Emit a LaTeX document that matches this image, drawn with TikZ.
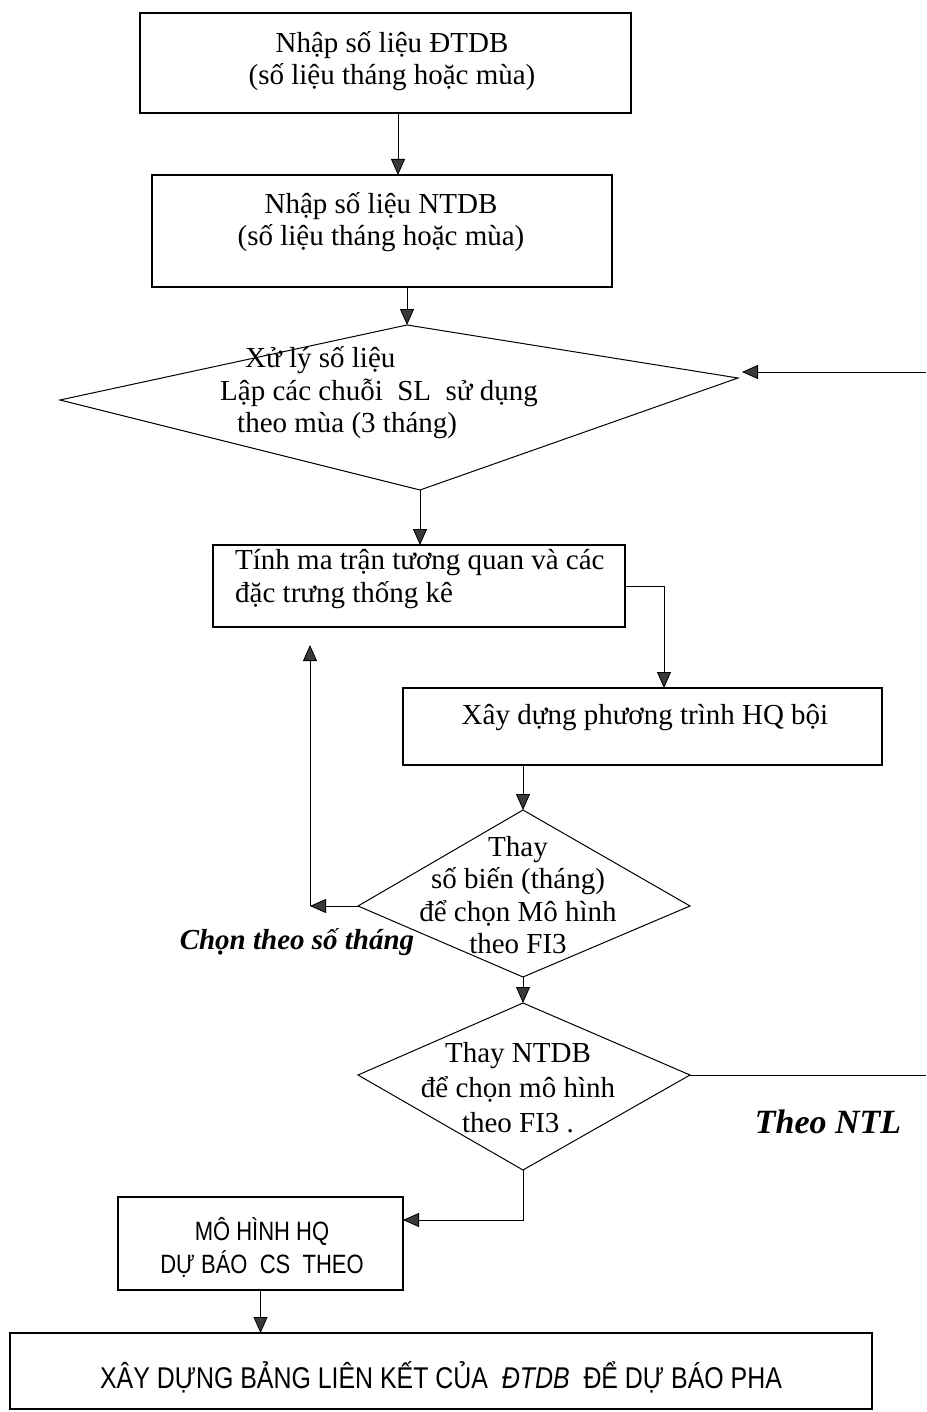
\documentclass[tikz,border=0pt]{standalone}
\usepackage{fontspec}
\setmainfont{Liberation Serif}
\newfontfamily\narrowsans[FakeStretch=0.83]{Liberation Sans}
\usetikzlibrary{arrows.meta}
\begin{document}
\begin{tikzpicture}[x=1pt,y=-1pt,
  boxnode/.style={draw, line width=1.1pt, inner sep=0pt, outer sep=0pt},
  shapeline/.style={draw, line width=1pt},
  txt/.style={inner sep=0pt, align=center, font=\fontsize{29}{32.5}\selectfont},
  sanstxt/.style={inner sep=0pt, align=center, font=\narrowsans\fontsize{26.5}{33}\selectfont},
  bigsans/.style={inner sep=0pt, font=\narrowsans\fontsize{30}{34}\selectfont},
  lbl/.style={inner sep=0pt, font=\fontsize{29}{32}\selectfont\bfseries\itshape},
  lblbig/.style={inner sep=0pt, font=\fontsize{34}{38}\selectfont\bfseries\itshape},
  conn/.style={line width=0.8pt},
  arr/.style={conn, -{Triangle[length=16pt,width=14pt,fill=gray!45!black]}}]
\useasboundingbox (0,0) rectangle (926,1412);
% boxes
\node[boxnode, minimum width=491pt, minimum height=100pt] (b1) at (385.5,63) {};
\node[txt] (t1) at (392,61) {Nhập số liệu ĐTDB\\(số liệu tháng hoặc mùa)};
\node[boxnode, minimum width=460pt, minimum height=112pt] (b2) at (382,231) {};
\node[txt] (t2) at (381,222) {Nhập số liệu NTDB\\(số liệu tháng hoặc mùa)};
% diamond 1
\coordinate (d1t) at (407,325);
\coordinate (d1r) at (738,378);
\coordinate (d1b) at (420,490);
\coordinate (d1l) at (60,400);
\draw[shapeline] (d1t) -- (d1r) -- (d1b) -- (d1l) -- cycle;
\node[txt, align=left, anchor=west] (t3) at (220,393) {\hspace*{25pt}Xử lý số liệu\\Lập các chuỗi\ \ SL\ \ sử dụng\\\hspace*{17pt}theo mùa (3 tháng)};
% box 3
\node[boxnode, minimum width=412pt, minimum height=82pt] (b3) at (419,586) {};
\node[txt, align=left, anchor=west] (t4) at (235,579) {Tính ma trận tương quan và các\\đặc trưng thống kê};
% box 4
\node[boxnode, minimum width=479pt, minimum height=77pt] (b4) at (642.5,726.5) {};
\node[txt] (t5) at (645,718) {Xây dựng phương trình HQ bội};
% diamond 2
\coordinate (d2t) at (523,810);
\coordinate (d2r) at (690,906);
\coordinate (d2b) at (523,977);
\coordinate (d2l) at (358,906);
\draw[shapeline] (d2t) -- (d2r) -- (d2b) -- (d2l) -- cycle;
\node[txt] (t6) at (518,895) {Thay\\số biến (tháng)\\để chọn Mô hình\\theo FI3};
% diamond 3
\coordinate (d3t) at (523,1003);
\coordinate (d3r) at (690,1075);
\coordinate (d3b) at (523,1170);
\coordinate (d3l) at (358,1075);
\draw[shapeline] (d3t) -- (d3r) -- (d3b) -- (d3l) -- cycle;
\node[txt, font=\fontsize{29}{35}\selectfont] (t7) at (518,1088) {Thay NTDB\\để chọn mô hình\\theo FI3 .};
% labels
\node[lbl] (l1) at (297,942) {Chọn theo số tháng};
\node[lblbig] (l2) at (828,1122) {Theo NTL};
% box 5
\node[boxnode, minimum width=285pt, minimum height=93pt] (b5) at (260.5,1243.5) {};
\node[sanstxt] (t8) at (262,1247) {MÔ HÌNH HQ\\DỰ BÁO\ \ CS\ \ THEO};
% box 6
\node[boxnode, minimum width=862pt, minimum height=76pt] (b6) at (441,1371) {};
\node[bigsans] (t9) at (441,1377) {XÂY DỰNG BẢNG LIÊN KẾT CỦA\ \ \textit{ĐTDB}\ \ ĐỂ DỰ BÁO PHA};
% coordinates
\coordinate (e1) at (926,372);
\coordinate (e2) at (926,1075);
\coordinate (c1) at (310,906);
\coordinate (c2) at (310,645);
\coordinate (c3) at (523,1220);
% connectors
\draw[arr] ([xshift=12.5pt]b1.south) -- ([xshift=12.5pt]b1.south |- b2.north);
\draw[arr] (d1t |- b2.south) -- (d1t);
\draw[arr] (e1) -- ([xshift=4pt]e1 -| d1r);
\draw[arr] (d1b) -- (d1b |- b3.north);
\draw[arr] (b3.east) -| ([xshift=21.5pt]b4.north);
\draw[arr] (b4.south -| d2t) -- (d2t);
\draw[arr] (d2l) -- (c1);
\draw[arr] (c1) -- (c2);
\draw[arr] (d2b) -- (d3t);
\draw[conn] (d3r) -- (e2);
\draw[arr] (d3b) -- (c3) -- (c3 -| b5.east);
\draw[arr] (b5.south) -- (b5.south |- b6.north);
\end{tikzpicture}
\end{document}
